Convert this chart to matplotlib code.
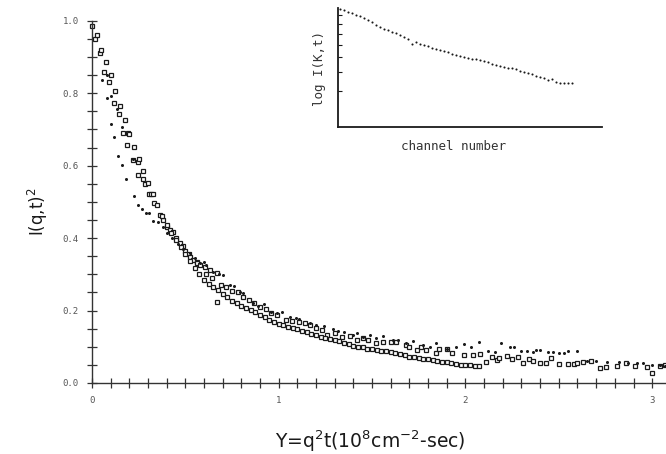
import numpy as np
import matplotlib.pyplot as plt
from matplotlib.ticker import MultipleLocator, NullFormatter

# smooth lower curve (open squares)
a_x = [0.0, 0.025, 0.05, 0.075, 0.1, 0.125, 0.15, 0.175, 0.2, 0.225, 0.25, 0.275,
       0.3, 0.325, 0.35, 0.375, 0.4, 0.425, 0.45, 0.475, 0.5, 0.525, 0.55, 0.575,
       0.6, 0.625, 0.65, 0.675, 0.7, 0.725, 0.75, 0.775, 0.8, 0.825, 0.85, 0.875,
       0.9, 0.925, 0.95, 0.975, 1.0, 1.025, 1.05, 1.075, 1.1, 1.125, 1.15, 1.175,
       1.2, 1.225, 1.25, 1.275, 1.3, 1.325, 1.35, 1.375, 1.4, 1.425, 1.45, 1.475,
       1.5, 1.525, 1.55, 1.575, 1.6, 1.625, 1.65, 1.675, 1.7, 1.725, 1.75, 1.775,
       1.8, 1.825, 1.85, 1.875, 1.9, 1.925, 1.95, 1.975, 2.0, 2.025, 2.05, 2.075]
a_y = [0.985, 0.96, 0.92, 0.885, 0.85, 0.805, 0.765, 0.725, 0.688, 0.652, 0.618, 0.585,
       0.553, 0.523, 0.492, 0.462, 0.437, 0.415, 0.395, 0.376, 0.357, 0.338, 0.318, 0.300,
       0.285, 0.274, 0.265, 0.256, 0.247, 0.236, 0.227, 0.220, 0.213, 0.207, 0.201, 0.195,
       0.188, 0.181, 0.175, 0.169, 0.164, 0.159, 0.155, 0.151, 0.148, 0.144, 0.140, 0.136,
       0.132, 0.128, 0.124, 0.121, 0.118, 0.115, 0.111, 0.107, 0.103, 0.100, 0.098, 0.095,
       0.093, 0.091, 0.089, 0.087, 0.085, 0.082, 0.079, 0.076, 0.073, 0.071, 0.069, 0.067,
       0.065, 0.063, 0.061, 0.059, 0.057, 0.055, 0.053, 0.051, 0.050, 0.049, 0.048, 0.047]

# scattered squares
b_x = [0.016, 0.043, 0.066, 0.093, 0.116, 0.145, 0.168, 0.189, 0.194, 0.218, 0.248, 0.245,
       0.275, 0.282, 0.307, 0.314, 0.332, 0.364, 0.38, 0.403, 0.417, 0.435, 0.45, 0.471,
       0.489, 0.5, 0.52, 0.525, 0.543, 0.56, 0.561, 0.58, 0.605, 0.61, 0.632, 0.64, 0.668,
       0.67, 0.69, 0.72, 0.75, 0.78, 0.81, 0.84, 0.87, 0.90, 0.93, 0.96, 0.99, 1.04, 1.07,
       1.11, 1.14, 1.17, 1.2, 1.23, 1.26, 1.3, 1.34, 1.38, 1.42, 1.45, 1.48, 1.52, 1.56,
       1.6, 1.63, 1.68, 1.7, 1.74, 1.76, 1.79, 1.84, 1.86, 1.9, 1.93, 1.99, 2.04, 2.08,
       2.11, 2.14, 2.17, 2.18, 2.22, 2.25, 2.28, 2.31, 2.34, 2.36, 2.4, 2.43, 2.46, 2.5,
       2.55, 2.58, 2.6, 2.63, 2.67, 2.72, 2.75, 2.81, 2.86, 2.91, 2.97, 3.0, 3.04, 3.07]
b_y = [0.95, 0.912, 0.859, 0.831, 0.772, 0.743, 0.69, 0.657, 0.69, 0.616, 0.61, 0.575,
       0.564, 0.55, 0.522, 0.522, 0.496, 0.464, 0.45, 0.43, 0.423, 0.418, 0.40, 0.386,
       0.377, 0.365, 0.355, 0.349, 0.34, 0.335, 0.331, 0.325, 0.321, 0.30, 0.312, 0.29, 0.303,
       0.224, 0.27, 0.265, 0.255, 0.25, 0.238, 0.229, 0.222, 0.21, 0.205, 0.193, 0.188, 0.174, 0.172,
       0.169, 0.165, 0.16, 0.152, 0.145, 0.133, 0.138, 0.128, 0.13, 0.12, 0.125, 0.118, 0.11, 0.112,
       0.112, 0.112, 0.104, 0.10, 0.091, 0.098, 0.091, 0.083, 0.093, 0.093, 0.082, 0.078, 0.077, 0.08,
       0.058, 0.072, 0.063, 0.07, 0.075, 0.066, 0.072, 0.055, 0.065, 0.062, 0.056, 0.056, 0.069, 0.053,
       0.053, 0.052, 0.054, 0.058, 0.06, 0.042, 0.045, 0.047, 0.055, 0.046, 0.045, 0.028, 0.048, 0.05]

# dots
c_x = [0.055, 0.079, 0.079, 0.103, 0.10, 0.119, 0.132, 0.141, 0.161, 0.162, 0.182, 0.218,
       0.225, 0.246, 0.266, 0.289, 0.307, 0.328, 0.355, 0.38, 0.40, 0.43, 0.46, 0.49, 0.525,
       0.55, 0.58, 0.60, 0.61, 0.65, 0.68, 0.70, 0.74, 0.76, 0.79, 0.81, 0.86, 0.89, 0.92,
       0.96, 0.99, 1.02, 1.06, 1.09, 1.11, 1.17, 1.2, 1.24, 1.29, 1.32, 1.35, 1.40, 1.42,
       1.45, 1.49, 1.52, 1.56, 1.61, 1.64, 1.68, 1.72, 1.77, 1.81, 1.84, 1.90, 1.95, 1.99,
       2.03, 2.07, 2.12, 2.16, 2.19, 2.24, 2.26, 2.30, 2.33, 2.36, 2.38, 2.40, 2.44, 2.47,
       2.50, 2.53, 2.55, 2.60, 2.65, 2.70, 2.76, 2.82, 2.87, 2.92, 2.95, 3.0, 3.04, 3.07]
c_y = [0.837, 0.849, 0.786, 0.793, 0.714, 0.68, 0.756, 0.627, 0.707, 0.602, 0.563, 0.619,
       0.515, 0.492, 0.48, 0.47, 0.469, 0.448, 0.444, 0.43, 0.415, 0.40, 0.385, 0.37, 0.36,
       0.345, 0.33, 0.333, 0.325, 0.305, 0.30, 0.298, 0.27, 0.268, 0.25, 0.248, 0.222, 0.213, 0.218,
       0.197, 0.193, 0.195, 0.183, 0.18, 0.178, 0.165, 0.16, 0.158, 0.15, 0.143, 0.14, 0.132, 0.138,
       0.128, 0.133, 0.125, 0.13, 0.118, 0.12, 0.11, 0.115, 0.106, 0.10, 0.11, 0.095, 0.098, 0.108,
       0.098, 0.112, 0.088, 0.085, 0.111, 0.10, 0.098, 0.087, 0.088, 0.086, 0.091, 0.09, 0.085, 0.085,
       0.084, 0.083, 0.089, 0.088, 0.062, 0.06, 0.058, 0.058, 0.055, 0.056, 0.054, 0.05, 0.05, 0.047]

y_ticks = [0.0, 0.2, 0.4, 0.6, 0.8, 1.0]
y_labels = ['0.0', '0.2', '0.4', '0.6', '0.8', '1.0']
x_ticks = [0, 1, 2, 3]

# inset: log I per channel
chan = list(range(1, 60))
log_i = [1.035, 1.027, 1.020, 1.012, 1.004, 0.997, 0.988, 0.976, 0.963, 0.951,
         0.938, 0.930, 0.922, 0.913, 0.905, 0.894, 0.884, 0.874, 0.847, 0.858,
         0.851, 0.844, 0.837, 0.830, 0.824, 0.818, 0.812, 0.805, 0.798, 0.792,
         0.786, 0.780, 0.775, 0.771, 0.767, 0.763, 0.757, 0.751, 0.744, 0.738,
         0.733, 0.728, 0.724, 0.721, 0.714, 0.707, 0.701, 0.695, 0.688, 0.681,
         0.675, 0.668, 0.659, 0.666, 0.650, 0.645, 0.641, 0.641, 0.642]
inset_ticks = [4, 5, 6, 7, 8, 9, 10]

ink = '#1a1a1a'
mono = 'DejaVu Sans Mono'

fig = plt.figure(figsize=(6.66, 4.54), dpi=100)
ax = fig.add_axes([92/666, 1 - 383/454, 574/666, 362.3/454])

ax.plot(b_x, b_y, ls='none', marker='s', ms=3.4, mfc='white', mec=ink, mew=0.9, clip_on=False)
ax.plot(a_x, a_y, ls='none', marker='s', ms=3.4, mfc='white', mec=ink, mew=0.9, clip_on=False)
ax.plot(c_x, c_y, ls='none', marker='o', ms=2.2, mfc=ink, mec=ink, mew=0, clip_on=False)

ax.set_xlim(0, 3.074)
ax.set_ylim(0, 1.0)
for s in ['top', 'right']:
    ax.spines[s].set_visible(False)
for s in ['left', 'bottom']:
    ax.spines[s].set_color('#333333')
    ax.spines[s].set_linewidth(1.0)

ax.set_yticks(y_ticks)
ax.set_yticklabels(y_labels)
ax.yaxis.set_minor_locator(MultipleLocator(0.05))
ax.set_xticks(x_ticks)
ax.xaxis.set_minor_locator(MultipleLocator(0.1))
ax.tick_params(which='both', direction='inout', length=7, width=0.9, color='#333333')
ax.tick_params(axis='both', which='major', labelsize=6.5, labelcolor='#555555', pad=6)
for lab in ax.get_xticklabels() + ax.get_yticklabels():
    lab.set_family(mono)

fig.text(38/666, 1 - 212/454, r'I(q,t)$^2$', rotation=90, ha='center', va='center',
         fontsize=12, family='DejaVu Sans', color=ink)
fig.text(370/666, 1 - 441/454, r'Y=q$^2$t(10$^8$cm$^{-2}$-sec)', ha='center', va='center',
         fontsize=13.5, family='DejaVu Sans', color=ink)

# inset
ins = fig.add_axes([338/666, 1 - 126.7/454, 264/666, 118.4/454])
ins.plot(chan, log_i, ls='none', marker='o', ms=1.5, mfc=ink, mec=ink, mew=0, clip_on=False)
ins.set_xlim(0.5, 66.5)
ins.set_ylim(0.412, 1.037)
for s in ['top', 'right']:
    ins.spines[s].set_visible(False)
for s in ['left', 'bottom']:
    ins.spines[s].set_color(ink)
    ins.spines[s].set_linewidth(1.3)
ins.set_xticks([])
ins.set_yticks(np.log10(inset_ticks))
ins.yaxis.set_major_formatter(NullFormatter())
ins.tick_params(axis='y', direction='in', length=3, width=0.8, color=ink)

fig.text(320/666, 1 - 69/454, 'log I(K,t)', rotation=90, ha='center', va='center',
         fontsize=9, family=mono, color='#333333')
fig.text(453/666, 1 - 147/454, 'channel number', ha='center', va='center',
         fontsize=9, family=mono, color='#333333')

fig.savefig('out.png', dpi=100)
